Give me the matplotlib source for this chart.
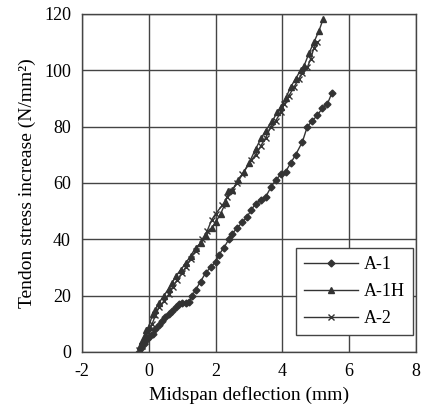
import matplotlib
matplotlib.use("Agg")
import matplotlib.pyplot as plt

# A-1
a1_x = [-0.28, -0.22, -0.15, -0.05, 0.05, 0.12, 0.2, 0.3, 0.4, 0.5, 0.6, 0.7, 0.8, 0.9, 1.0, 1.1,
        1.2, 1.3, 1.4, 1.55, 1.7, 1.85, 2.0, 2.1, 2.25, 2.4, 2.5, 2.65, 2.8, 2.95, 3.07, 3.2,
        3.35, 3.5, 3.66, 3.8, 3.96, 4.1, 4.25, 4.4, 4.6, 4.75, 4.9, 5.05, 5.2, 5.35, 5.49]
a1_y = [0, 1.5, 3, 4.5, 5.5, 6.5, 8, 9.5, 11, 12.5, 13.6, 14.5, 15.8, 17, 17.3, 17.2,
        17.8, 20, 22, 25, 28, 30, 32, 34.5, 37, 40, 42, 44, 46, 48, 50.5, 52.5,
        54, 55, 58.5, 61, 63, 64, 67, 70, 74.5, 80, 82, 84, 86.5, 88, 92]

# A-1H
a1h_x = [-0.28, -0.25, -0.2, -0.12, -0.08, 0.0, 0.12, 0.2, 0.31, 0.45, 0.6, 0.7, 0.81, 0.95,
         1.1, 1.25, 1.4, 1.55, 1.7, 1.89, 2.0, 2.15, 2.3, 2.38, 2.5, 2.68, 2.85, 3.0, 3.2,
         3.37, 3.5, 3.7, 3.85, 3.96, 4.1, 4.25, 4.4, 4.55, 4.65, 4.8, 4.95, 5.1, 5.22]
a1h_y = [0, 2, 4, 6, 7.7, 9, 13.6, 15, 17.5, 20, 22.5, 24.5, 27, 29,
         31.5, 34, 37, 38.5, 41, 44, 46, 49, 53, 57, 57.5, 61, 64, 67, 72,
         76, 78.5, 82, 85, 87, 90, 94, 97, 100, 101.5, 106, 110, 114, 118]

# A-2
a2_x = [-0.28, -0.2, -0.1, 0.02, 0.1, 0.2, 0.31, 0.45, 0.6, 0.71, 0.85, 1.0, 1.1, 1.25,
        1.4, 1.6, 1.75, 1.89, 2.0, 2.2, 2.35, 2.48, 2.65, 2.8, 3.07, 3.2, 3.35, 3.5,
        3.66, 3.8, 3.95, 4.06, 4.2, 4.35, 4.5, 4.6, 4.75, 4.85, 4.95, 5.05]
a2_y = [0.6, 2, 4, 7.7, 10, 13, 16, 18, 20.5, 23, 25.5, 28, 30, 33,
        36, 40, 43, 47, 49, 52, 55, 57, 60, 63, 68, 70, 73, 76,
        80, 82, 85, 88, 91, 94, 97, 99, 101, 104, 108, 110]

x_ticks = [-2, 0, 2, 4, 6, 8]
y_ticks = [0, 20, 40, 60, 80, 100, 120]

plt.rcParams['font.family'] = ['Liberation Serif', 'DejaVu Serif']
plt.rcParams['axes.unicode_minus'] = False

fig = plt.figure(figsize=(4.23, 4.18), dpi=100)
ax = fig.add_axes([0.194, 0.158, 0.789, 0.809])

col = '#333333'
ax.plot(a1_x, a1_y, color=col, lw=1.0, marker='D', ms=3.5, label='A-1')
ax.plot(a1h_x, a1h_y, color=col, lw=1.0, marker='^', ms=4, label='A-1H')
ax.plot(a2_x, a2_y, color=col, lw=1.0, marker='x', ms=5, mew=1.0, label='A-2')

ax.set_xlim(-2, 8)
ax.set_ylim(0, 120)
ax.set_xticks(x_ticks)
ax.set_yticks(y_ticks)
ax.grid(True, color='#444444', lw=1.0)
ax.set_axisbelow(True)
ax.tick_params(length=0, labelsize=13, pad=8)
for s in ax.spines.values():
    s.set_color('#444444')
    s.set_linewidth(1.0)

ax.set_xlabel('Midspan deflection (mm)', fontsize=14, labelpad=4)
ax.set_ylabel('Tendon stress increase (N/mm²)', fontsize=14, labelpad=6)

leg = ax.legend(loc='lower right', bbox_to_anchor=(0.991, 0.05), fontsize=13,
                fancybox=False, framealpha=1, edgecolor='#444444', borderaxespad=0,
                handlelength=3.0, handletextpad=0.3, borderpad=0.45, labelspacing=0.55)
leg.get_frame().set_linewidth(1.0)

fig.savefig('out.png', dpi=100)
